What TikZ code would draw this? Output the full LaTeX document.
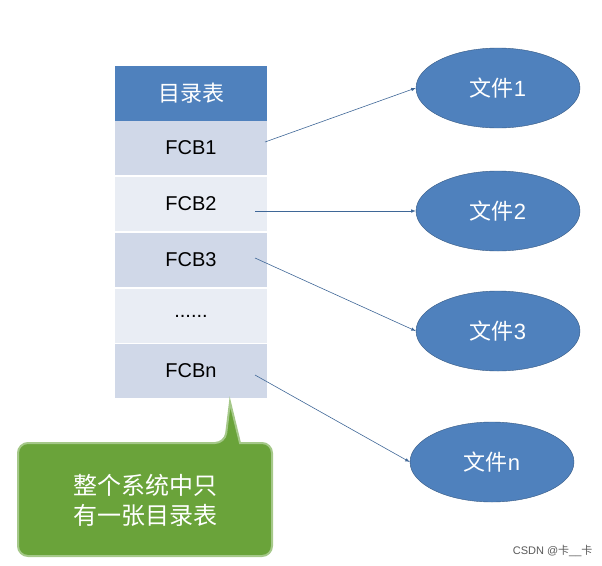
\documentclass[tikz,border=0pt]{standalone}
\usepackage{fontspec}
\setmainfont{Liberation Sans}
\newfontfamily\cjk{Noto Sans CJK SC}
\usetikzlibrary{shapes.geometric,positioning}
\definecolor{hdblue}{HTML}{4F81BD}
\definecolor{rowdark}{HTML}{D0D8E8}
\definecolor{rowlight}{HTML}{E9EDF4}
\definecolor{callgreen}{HTML}{6AA33A}
\tikzset{
  rowbox/.style={minimum width=152pt,minimum height=54pt,inner sep=0pt,font=\fontsize{20}{20}\selectfont},
  filebox/.style={ellipse,draw=hdblue!70!black,fill=hdblue,minimum width=164pt,minimum height=80pt,
    text=white,font=\cjk\fontsize{22}{22}\selectfont},
  link/.style={->,>=latex,hdblue!80!black,semithick}
}
\begin{document}
\begin{tikzpicture}[x=1pt,y=-1pt]
\useasboundingbox (0,0) rectangle (602,565);
%% directory table
\node[rowbox,fill=hdblue,text=white,minimum height=55pt,font=\cjk\fontsize{22}{22}\selectfont] (head) at (191,93) {目录表};
\node[rowbox,fill=rowdark] (fcb1) at (191,148) {FCB1};
\node[rowbox,fill=rowlight] (fcb2) at (191,204) {FCB2};
\node[rowbox,fill=rowdark] (fcb3) at (191,260) {FCB3};
\node[rowbox,fill=rowlight] (dots) at (191,316) {......};
\node[rowbox,fill=rowdark] (fcbn) at (191,371) {FCBn};

%% files
\node[filebox] (f1) at (498,88) {文件\fontspec{Liberation Sans}1};
\node[filebox] (f2) at (498,211) {文件\fontspec{Liberation Sans}2};
\node[filebox] (f3) at (498,331) {文件\fontspec{Liberation Sans}3};
\node[filebox] (fn) at (492,462) {文件\fontspec{Liberation Sans}n};

\coordinate (s1) at (265,142);
\coordinate (s2) at (255,211);
\coordinate (s3) at (255,258);
\coordinate (sn) at (255,375);
\draw[link] (s1) -- (f1.west);
\draw[link] (s2) -- (f2.west);
\draw[link] (s3) -- (f3.west);
\draw[link] (sn) -- (fn.west);

%% callout
\draw[callgreen!60!white,line width=2pt,fill=callgreen,rounded corners=10pt]
  (18,443) -- (175,443) -- (225,443) [sharp corners]-- (230,402) -- (240,443) [rounded corners=10pt]
  -- (272,443) -- (272,556) -- (18,556) -- cycle;
\node[text=white,font=\cjk\fontsize{24}{30}\selectfont,align=left] (note) at (145,500) {整个系统中只\\有一张目录表};

\node[text=gray!70!black,font=\fontsize{11}{11}\selectfont,anchor=south east] (mark) at (596,560) {CSDN @{\cjk 卡}\_\_{\cjk 卡}};
\end{tikzpicture}
\end{document}
